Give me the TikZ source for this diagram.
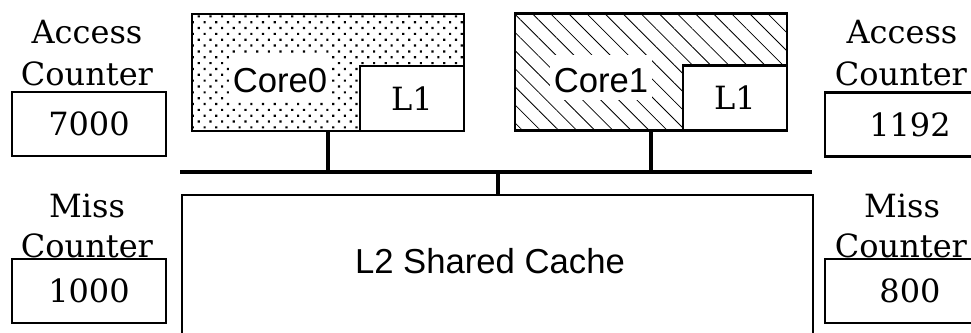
\documentclass[tikz,border=0pt]{standalone}
\usepackage{fontspec}
\setmainfont{DejaVu Serif}
\newfontfamily\sanslabel{Liberation Sans}
\usetikzlibrary{patterns.meta}
\tikzset{
  boxline/.style={draw, line width=1.8pt, rectangle, inner sep=0pt},
  serif/.style={font=\fontsize{24}{30}\selectfont},
  sanstext/.style={font=\sanslabel\fontsize{26}{30}\selectfont},
  corebox/.style={boxline, minimum width=204pt, minimum height=87.5pt},
  cachebox/.style={boxline, fill=white, serif, minimum width=78pt, minimum height=48.5pt},
  counterbox/.style={boxline, serif, minimum height=48pt},
  caption/.style={serif, anchor=base, inner sep=0pt},
  corelabel/.style={sanstext, anchor=base, fill=white, inner xsep=3pt, inner ysep=3pt,
                    text height=25pt, text depth=3pt},
  link/.style={line width=3pt},
  bus/.style={line width=3.5pt},
}
\begin{document}
\begin{tikzpicture}[x=0.75pt, y=-0.75pt]
\useasboundingbox (0,0) rectangle (971,332);
\clip (0,0) rectangle (971,332);

% left counters
\node[caption] (accL) at (87,43) {Access};
\node[caption] (acccL) at (87,85) {Counter};
\node[counterbox, minimum width=115.5pt] (accboxL) at (89,124) {7000};
\node[caption] (missL) at (87,217) {Miss};
\node[caption] (misscL) at (87,257) {Counter};
\node[counterbox, minimum width=115.5pt] (missboxL) at (89,291) {1000};

% right counters (running past the right edge)
\node[caption] (accR) at (902,43) {Access};
\node[caption] (acccR) at (901,85) {Counter};
\node[counterbox, minimum width=127.5pt] (accboxR) at (910,124.5) {1192};
\node[caption] (missR) at (902,217) {Miss};
\node[caption] (misscR) at (901,257) {Counter};
\node[counterbox, minimum width=127.5pt] (missboxR) at (910,291) {800};

% cores with their private L1 caches
\node[corebox, pattern={Dots[distance=6.2pt, radius=1.15pt, angle=45]}] (core0) at (328,72.5) {};
\node[corelabel] (core0t) at (280,92) {Core0};
\node[cachebox] (l1a) at (412,98.5) {L1};

\node[corebox, pattern={Lines[angle=-45, distance=9.6pt, line width=0.6pt]}] (core1) at (651,72) {};
\node[corelabel] (core1t) at (601,92) {Core1};
\node[cachebox] (l1b) at (735,98) {L1};

% shared L2
\node[boxline, minimum width=473.25pt, minimum height=112.5pt] (l2) at (497.5,270) {};
\node[sanstext, anchor=base, inner sep=0pt] (l2t) at (490,273) {L2 Shared Cache};

% bus
\coordinate (busL) at (180,172);
\coordinate (busR) at (812,172);
\draw[bus] (busL) -- (busR);
\draw[link] (core0.south) -- (core0.south |- busL);
\draw[link] (core1.south) -- (core1.south |- busL);
\draw[link] (l2.north) -- (l2.north |- busL);
\end{tikzpicture}
\end{document}
